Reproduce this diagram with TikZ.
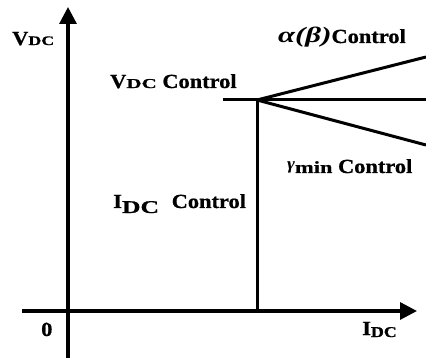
\documentclass[tikz,border=0pt]{standalone}
\usepackage{fontspec}
\setmainfont[FakeStretch=1.12,BoldFeatures={FakeBold=0.8}]{Liberation Serif}
\usetikzlibrary{arrows.meta}
% subscript "DC": #1 horizontal scale, #2 vertical scale, #3 drop below baseline
\newcommand{\dcsub}[3]{\raisebox{-#3}{\scalebox{#1}[#2]{DC}}}
\begin{document}
\begin{tikzpicture}[x=1pt,y=-1pt,
  curve/.style={line width=3pt},
  axis/.style={line width=3.2pt,-{Triangle[length=17pt,width=17pt]}},
  lbl/.style={font=\bfseries\fontsize{20}{24}\selectfont,inner sep=0pt,anchor=base west}]
\useasboundingbox (0,0) rectangle (426,358);
% axes
\coordinate (ybot) at (68,358);
\coordinate (ytop) at (68,7);
\coordinate (xleft) at (22,311);
\coordinate (xright) at (417,311);
\draw[axis] (ybot) -- (ytop);
\draw[axis] (xleft) -- (xright);
% operating characteristics
\coordinate (knee) at (257,100);
\coordinate (foot) at (257,311);
\coordinate (hl) at (223,100);
\coordinate (hr) at (426,100);
\coordinate (up) at (426,57);
\coordinate (dn) at (426,145);
\draw[curve] (hl) -- (hr);
\draw[curve] (foot) -- (knee);
\draw[curve] (knee) -- (up);
\draw[curve] (knee) -- (dn);
% labels
\node[lbl] (vdc) at (12,45) {V\dcsub{0.8}{0.65}{0pt}};
\node[lbl] (vctl) at (110,88) {V\dcsub{0.94}{0.68}{0pt} Control};
\node[lbl] (actl) at (278,43) {\scalebox{1.25}[1]{\itshape\fontsize{22}{24}\selectfont α(β)}Control};
\node[lbl] (gctl) at (287,173) {\raisebox{3pt}{\itshape\fontsize{17}{17}\selectfont γ}\scalebox{1}[0.85]{min} Control};
\node[lbl] (ictl) at (113,208) {I\dcsub{1.15}{0.9}{5pt}\hspace{7pt} Control};
\node[lbl] (zero) at (41,336) {0};
\node[lbl] (idc) at (362,335) {I\dcsub{0.8}{0.75}{2pt}};
\end{tikzpicture}
\end{document}
